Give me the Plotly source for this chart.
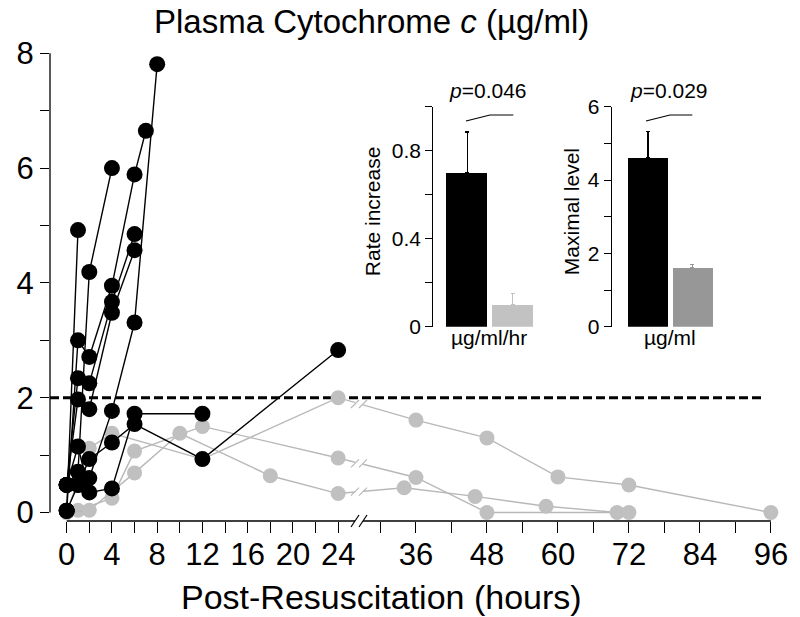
import plotly.graph_objects as go

# ---------------- data ----------------
# Black group: individual animals (hours post-resuscitation, µg/ml)
BLACK_HOURS = [
    [0, 1],
    [0, 1, 2, 4],
    [0, 1, 2, 4, 6, 7],
    [0, 1, 2, 4, 6],
    [0, 1, 2, 4, 6],
    [0, 1, 2, 4, 6, 8],
    [0, 1, 2, 4, 6, 12],
    [0, 1, 2, 4, 6, 12, 24],
]
BLACK_VALUES = [
    [0.03, 4.92],
    [0.48, 0.71, 4.19, 6.00],
    [0.03, 3.00, 2.71, 3.95, 5.89, 6.65],
    [0.48, 2.34, 2.25, 3.67, 4.85],
    [0.48, 1.97, 1.80, 3.48, 4.57],
    [0.48, 0.48, 0.60, 1.77, 3.31, 7.81],
    [0.48, 1.15, 0.35, 0.42, 1.72, 1.72],
    [0.03, 0.48, 0.93, 1.22, 1.54, 0.93, 2.83],
]
# Grey group
GREY_HOURS = [
    [0, 2, 4, 12, 24, 36, 48, 60, 72, 96],
    [0, 1, 4, 6, 12, 24, 36, 48, 72],
    [0, 2, 6, 10, 18, 24, 34, 46, 58, 70],
]
GREY_VALUES = [
    [0.00, 1.12, 1.38, 0.93, 2.00, 1.61, 1.30, 0.62, 0.48, 0.00],
    [0.00, 0.04, 0.25, 1.07, 1.50, 0.95, 0.61, 0.00, 0.00],
    [0.00, 0.04, 0.69, 1.38, 0.64, 0.33, 0.43, 0.28, 0.11, 0.00],
]
THRESHOLD = 2.0

X_TICK_HOURS = [0, 2, 4, 6, 8, 10, 12, 14, 16, 18, 20, 22, 24,
                30, 36, 42, 48, 54, 60, 66, 72, 78, 84, 90, 96]
X_TICK_LABELED = [0, 4, 8, 12, 16, 20, 24, 36, 48, 60, 72, 84, 96]
Y_TICKS = [0, 1, 2, 3, 4, 5, 6, 7, 8]
Y_TICK_LABELED = [0, 2, 4, 6, 8]

# Insets
GROUPS = ["black", "grey"]
RATE_VALUES = [0.70, 0.10]
RATE_ERRORS = [0.185, 0.05]
MAX_VALUES = [4.62, 1.61]
MAX_ERRORS = [0.71, 0.09]
RATE_TICKS = [0, 0.2, 0.4, 0.6, 0.8, 1.0]
RATE_TICK_LABELS = ["0", "", "0.4", "", "0.8", ""]
MAX_TICKS = [0, 1, 2, 3, 4, 5, 6]
MAX_TICK_LABELS = ["0", "", "2", "", "4", "", "6"]

# ---------------- styling ----------------
FONT = "Liberation Sans, Arial, sans-serif"
BLACK = "#000000"
GREY_LINE = "#b8b8b8"
GREY_MARK = "#c0c0c0"
RATE_COLORS = ["#000000", "#c2c2c2"]
MAX_COLORS = ["#000000", "#979797"]

W, H = 800, 617
ML, MR, MT, MB = 50, 10, 50, 96


def px_x(px):
    return (px - ML) / (W - ML - MR)


def px_y(py):
    return (H - MB - py) / (H - MT - MB)


# broken time axis: 0-24 h linear, then compressed scale after break
BREAK_POS = 25.93


def xpos(h):
    if h <= 27:
        return h
    return 30.88 + (h - 36) * 0.523


fig = go.Figure()

# grey animals
for hrs, vals in zip(GREY_HOURS, GREY_VALUES):
    fig.add_trace(go.Scatter(
        x=[xpos(h) for h in hrs], y=vals, mode="lines+markers",
        line=dict(color=GREY_LINE, width=1.4),
        marker=dict(color=GREY_MARK, size=15, line=dict(width=0)),
        cliponaxis=False, showlegend=False, hoverinfo="skip"))

# black animals
for hrs, vals in zip(BLACK_HOURS, BLACK_VALUES):
    fig.add_trace(go.Scatter(
        x=[xpos(h) for h in hrs], y=vals, mode="lines+markers",
        line=dict(color=BLACK, width=1.4),
        marker=dict(color=BLACK, size=16, line=dict(width=0)),
        cliponaxis=False, showlegend=False, hoverinfo="skip"))

shapes = []
# threshold dashed line
shapes.append(dict(type="line", xref="paper", yref="y", x0=0, x1=px_x(762),
                   y0=THRESHOLD, y1=THRESHOLD, layer="below",
                   line=dict(color=BLACK, width=3, dash="9px,4px")))
# y axis line
shapes.append(dict(type="line", xref="paper", yref="y", x0=0, x1=0,
                   y0=Y_TICKS[0], y1=Y_TICKS[-1], line=dict(color=BLACK, width=1.3)))
# x axis line
shapes.append(dict(type="line", xref="x", yref="paper", x0=xpos(0), x1=xpos(96),
                   y0=0, y1=0, line=dict(color=BLACK, width=1.3)))


def add_break(yval, yref, color, half_h, gap_w=5):
    # white gap
    shapes.append(dict(type="line", xref="x", yref=yref, xsizemode="pixel", xanchor=BREAK_POS,
                       ysizemode="pixel", yanchor=yval,
                       x0=-5, x1=3, y0=0, y1=0,
                       line=dict(color="white", width=gap_w)))
    for off in (-5, 3):
        shapes.append(dict(type="line", xref="x", yref=yref, xsizemode="pixel", xanchor=BREAK_POS,
                           ysizemode="pixel", yanchor=yval,
                           x0=off - 4, x1=off + 4, y0=-half_h, y1=half_h,
                           line=dict(color=color, width=1.2)))


add_break(0, "paper", BLACK, 6, gap_w=4)
for hrs, vals in zip(GREY_HOURS, GREY_VALUES):
    xs = [xpos(h) for h in hrs]
    for i in range(len(xs) - 1):
        if xs[i] < BREAK_POS < xs[i + 1]:
            t = (BREAK_POS - xs[i]) / (xs[i + 1] - xs[i])
            yv = vals[i] + t * (vals[i + 1] - vals[i])
            add_break(yv, "y", GREY_LINE, 4)

# ---------------- insets ----------------
for k, (vals, errs, cols) in enumerate([(RATE_VALUES, RATE_ERRORS, RATE_COLORS),
                                        (MAX_VALUES, MAX_ERRORS, MAX_COLORS)]):
    xa = "x2" if k == 0 else "x3"
    ya = "y2" if k == 0 else "y3"
    for i, (v, e, c) in enumerate(zip(vals, errs, cols)):
        fig.add_trace(go.Bar(
            x=[i], y=[v], width=0.9, marker=dict(color=c, line=dict(width=0)),
            error_y=dict(type="data", array=[e], arrayminus=[0], symmetric=False,
                         color=c, thickness=1.3, width=2),
            xaxis=xa, yaxis=ya, showlegend=False, hoverinfo="skip"))

annotations = []
# title
annotations.append(dict(xref="paper", yref="paper", x=px_x(371), y=px_y(21),
                        text="Plasma Cytochrome <i>c</i> (µg/ml)", showarrow=False,
                        xanchor="center", yanchor="middle",
                        font=dict(family=FONT, size=33, color=BLACK)))
# x title
annotations.append(dict(xref="paper", yref="paper", x=px_x(381), y=px_y(597),
                        text="Post-Resuscitation (hours)", showarrow=False,
                        xanchor="center", yanchor="middle",
                        font=dict(family=FONT, size=34, color=BLACK)))
# inset labels
inset_txt = [
    (372.7, 211.5, "Rate increase", -90),
    (571.7, 211.5, "Maximal level", -90),
    (489, 337, "µg/ml/hr", 0),
    (670, 337, "µg/ml", 0),
    (488.3, 90.7, "<i>p</i>=0.046", 0),
    (669.3, 90.7, "<i>p</i>=0.029", 0),
]
for x, y, t, ang in inset_txt:
    annotations.append(dict(xref="paper", yref="paper", x=px_x(x), y=px_y(y), text=t,
                            textangle=ang, showarrow=False, xanchor="center", yanchor="middle",
                            font=dict(family=FONT, size=21, color=BLACK)))
# significance brackets
for (a, b, c) in [(466, 490, 513.3), (646, 670, 692.3)]:
    shapes.append(dict(type="path", xref="paper", yref="paper",
                       path=f"M {px_x(a)},{px_y(121)} L {px_x(b)},{px_y(115)} L {px_x(c)},{px_y(115)}",
                       line=dict(color=BLACK, width=1.2)))

fig.update_layout(
    width=W, height=H,
    margin=dict(l=ML, r=MR, t=MT, b=MB, pad=0),
    paper_bgcolor="white", plot_bgcolor="white",
    font=dict(family=FONT, color=BLACK),
    bargap=0,
    shapes=shapes, annotations=annotations,
    xaxis=dict(range=[-1.475, 63.95], tickvals=[xpos(h) for h in X_TICK_HOURS],
               ticktext=[str(h) if h in X_TICK_LABELED else "" for h in X_TICK_HOURS],
               ticks="outside", ticklen=11, tickwidth=1.3, tickcolor=BLACK,
               ticklabelstandoff=-5,
               showline=False, showgrid=False, zeroline=False,
               tickfont=dict(family=FONT, size=31, color=BLACK)),
    yaxis=dict(range=[-0.148, 8.0575], tickvals=Y_TICKS,
               ticktext=[str(v) if v in Y_TICK_LABELED else "" for v in Y_TICKS],
               ticks="outside", ticklen=9, tickwidth=1.3, tickcolor=BLACK,
               showline=False, showgrid=False, zeroline=False,
               tickfont=dict(family=FONT, size=31, color=BLACK)),
    xaxis2=dict(domain=[px_x(433.3), px_x(540)], range=[-0.743, 1.596], anchor="y2",
                showline=False, showticklabels=False, ticks="", showgrid=False, zeroline=False),
    yaxis2=dict(domain=[px_y(326.7), px_y(106.7)], range=[0, 1.0], anchor="x2",
                tickvals=RATE_TICKS, ticktext=RATE_TICK_LABELS,
                ticks="outside", ticklen=7, tickwidth=1.3, tickcolor=BLACK,
                showline=True, linecolor=BLACK, linewidth=1.3,
                showgrid=False, zeroline=False,
                tickfont=dict(family=FONT, size=21, color=BLACK)),
    xaxis3=dict(domain=[px_x(611.7), px_x(719)], range=[-0.82, 1.6], anchor="y3",
                showline=False, showticklabels=False, ticks="", showgrid=False, zeroline=False),
    yaxis3=dict(domain=[px_y(326.7), px_y(106.7)], range=[0, 6.0], anchor="x3",
                tickvals=MAX_TICKS, ticktext=MAX_TICK_LABELS,
                ticks="outside", ticklen=7, tickwidth=1.3, tickcolor=BLACK,
                showline=True, linecolor=BLACK, linewidth=1.3,
                showgrid=False, zeroline=False,
                tickfont=dict(family=FONT, size=21, color=BLACK)),
)

fig.write_html("out.html", config={"displayModeBar": False},
               post_script="document.body.style.margin='0px';")
